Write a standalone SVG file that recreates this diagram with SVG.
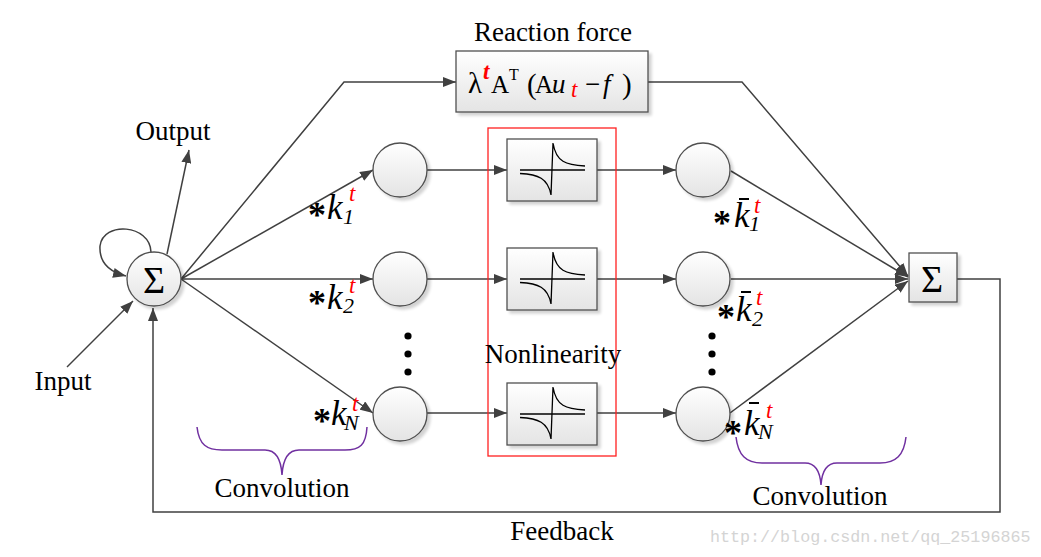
<svg xmlns="http://www.w3.org/2000/svg" width="1041" height="557" viewBox="0 0 1041 557">
<style>
.t{font-family:"Liberation Serif","Times New Roman",serif;font-size:27px;fill:#000}
.m{font-family:"Liberation Serif","Times New Roman",serif;fill:#000}
.it{font-style:italic}
.red{fill:#ff0000;font-style:italic;font-size:23px}
.ast{font-weight:bold;font-size:36px;font-style:normal}
.kk{font-style:italic;font-size:35px}
.sub{font-style:italic;font-size:22px}
.lab{font-family:"Liberation Serif","Times New Roman",serif;fill:#000}
.ln{stroke:#404040;stroke-width:1.5;fill:none}
.node{fill:url(#g);stroke:#505050;stroke-width:1.3}
.brace{fill:none;stroke:#7030a0;stroke-width:1.5}
.dot{fill:#000}
</style>
<defs>
<linearGradient id="g" x1="0" y1="0" x2="0" y2="1">
<stop offset="0" stop-color="#ffffff"/>
<stop offset="1" stop-color="#e4e4e4"/>
</linearGradient>
<filter id="sh" x="-20%" y="-20%" width="150%" height="150%">
<feGaussianBlur in="SourceAlpha" stdDeviation="1.5"/>
<feOffset dx="3" dy="3" result="b"/>
<feComponentTransfer><feFuncA type="linear" slope="0.18"/></feComponentTransfer>
<feMerge><feMergeNode/><feMergeNode in="SourceGraphic"/></feMerge>
</filter>
<marker id="ar" markerUnits="userSpaceOnUse" markerWidth="14" markerHeight="10" refX="13" refY="5" orient="auto">
<path d="M0,0 L13,5 L0,10 z" fill="#404040"/>
</marker>
<g id="nl">
<line x1="-32" y1="0" x2="33" y2="0" stroke="#000" stroke-width="1.3"/>
<path d="M-32,3.5 C-14,4.5 -4,8 -1,25 L1,-27 C4,-8 14,-5 33,-4" fill="none" stroke="#000" stroke-width="1.3"/>
</g>
</defs>
<rect width="1041" height="557" fill="#fff"/>

<g id="connectors">
<path class="ln" d="M151,252 C150,224 103,221 100,246 C99,263 110,272 126,276" marker-end="url(#ar)"/>
<line class="ln" x1="167" y1="254" x2="189" y2="150" marker-end="url(#ar)"/>
<line class="ln" x1="67" y1="367" x2="133" y2="301" marker-end="url(#ar)"/>
<polyline class="ln" points="181,279 344,82 456,82" marker-end="url(#ar)"/>
<line class="ln" x1="181" y1="279" x2="373" y2="170" marker-end="url(#ar)"/>
<line class="ln" x1="181" y1="279" x2="373" y2="279" marker-end="url(#ar)"/>
<line class="ln" x1="181" y1="279" x2="373" y2="413" marker-end="url(#ar)"/>
<line class="ln" x1="427" y1="170" x2="507" y2="170" marker-end="url(#ar)"/>
<line class="ln" x1="427" y1="279" x2="507" y2="279" marker-end="url(#ar)"/>
<line class="ln" x1="427" y1="413" x2="507" y2="413" marker-end="url(#ar)"/>
<line class="ln" x1="597" y1="170" x2="676" y2="170" marker-end="url(#ar)"/>
<line class="ln" x1="597" y1="279" x2="676" y2="279" marker-end="url(#ar)"/>
<line class="ln" x1="597" y1="413" x2="676" y2="413" marker-end="url(#ar)"/>
<polyline class="ln" points="648,82 742,82 908,276" marker-end="url(#ar)"/>
<line class="ln" x1="731" y1="171" x2="908" y2="277" marker-end="url(#ar)"/>
<line class="ln" x1="731" y1="279" x2="908" y2="279" marker-end="url(#ar)"/>
<line class="ln" x1="730" y1="413" x2="908" y2="281" marker-end="url(#ar)"/>
<polyline class="ln" points="957,279 1000,279 1000,512 153,512 153,308" marker-end="url(#ar)"/>
</g>

<rect id="nonlinearity-frame" x="488" y="128" width="128" height="328" fill="none" stroke="#ff2020" stroke-width="1.3"/>

<g id="sum-left">
<circle class="node" cx="154" cy="279" r="27" filter="url(#sh)"/>
<text class="m" x="154" y="293" font-size="38" text-anchor="middle">Σ</text>
</g>

<g id="reaction">
<rect class="node" x="456" y="51" width="192" height="61" filter="url(#sh)"/>
<text class="m" font-size="27"><tspan x="468" y="93" font-size="29">λ</tspan><tspan class="red" x="483" y="79" font-size="25" font-weight="bold">t</tspan><tspan x="491" y="93" font-size="25">A</tspan><tspan x="509" y="80" font-size="16">T</tspan><tspan x="527" y="94" font-size="29">(</tspan><tspan x="535" y="93" font-size="25">A</tspan><tspan class="it" x="552" y="93">u</tspan><tspan class="red" x="571" y="97" font-size="25">t</tspan><tspan x="585" y="93">−</tspan><tspan class="it" x="603" y="93">f</tspan><tspan x="622" y="94" font-size="29">)</tspan></text>
</g>

<g id="c1"><circle class="node" cx="400" cy="170" r="27" filter="url(#sh)"/></g>
<g id="c2"><circle class="node" cx="400" cy="279" r="27" filter="url(#sh)"/></g>
<g id="cN"><circle class="node" cx="400" cy="414" r="27" filter="url(#sh)"/></g>

<g id="nl1"><rect class="node" x="507" y="139" width="90" height="62" filter="url(#sh)"/><use href="#nl" x="552" y="170"/></g>
<g id="nl2"><rect class="node" x="507" y="248" width="90" height="62" filter="url(#sh)"/><use href="#nl" x="552" y="279"/></g>
<g id="nlN"><rect class="node" x="507" y="383" width="90" height="62" filter="url(#sh)"/><use href="#nl" x="552" y="414"/></g>

<g id="d1"><circle class="node" cx="703" cy="170" r="27" filter="url(#sh)"/></g>
<g id="d2"><circle class="node" cx="703" cy="279" r="27" filter="url(#sh)"/></g>
<g id="dN"><circle class="node" cx="703" cy="414" r="27" filter="url(#sh)"/></g>

<g id="sum-right">
<rect class="node" x="909" y="253" width="48" height="49" filter="url(#sh)"/>
<text class="m" x="932" y="292" font-size="38" text-anchor="middle">Σ</text>
</g>

<g id="dots">
<circle class="dot" cx="408" cy="336" r="3.6"/>
<circle class="dot" cx="408" cy="354" r="3.6"/>
<circle class="dot" cx="408" cy="372" r="3.6"/>
<circle class="dot" cx="712" cy="336" r="3.6"/>
<circle class="dot" cx="712" cy="354" r="3.6"/>
<circle class="dot" cx="712" cy="372" r="3.6"/>
</g>

<g id="labels">
<text class="t" x="553" y="41" text-anchor="middle">Reaction force</text>
<text class="t" x="173" y="140" text-anchor="middle">Output</text>
<text class="t" x="63" y="390" text-anchor="middle">Input</text>
<text class="t" x="553" y="363" text-anchor="middle">Nonlinearity</text>
<text class="t" x="282" y="497" text-anchor="middle">Convolution</text>
<text class="t" x="820" y="505" text-anchor="middle">Convolution</text>
<text class="t" x="562" y="540" text-anchor="middle">Feedback</text>

<text class="lab"><tspan class="ast" x="308" y="227">*</tspan><tspan class="kk" x="327" y="219">k</tspan><tspan class="sub" x="343" y="224">1</tspan><tspan class="red" x="349" y="201">t</tspan></text>
<text class="lab"><tspan class="ast" x="308" y="315">*</tspan><tspan class="kk" x="327" y="309">k</tspan><tspan class="sub" x="343" y="313">2</tspan><tspan class="red" x="349" y="293">t</tspan></text>
<text class="lab"><tspan class="ast" x="313" y="433">*</tspan><tspan class="kk" x="331" y="425">k</tspan><tspan class="sub" x="344" y="430">N</tspan><tspan class="red" x="352" y="411">t</tspan></text>

<line x1="739" y1="199" x2="749" y2="199" stroke="#000" stroke-width="2"/>
<text class="lab"><tspan class="ast" x="713" y="235">*</tspan><tspan class="kk" x="734" y="227">k</tspan><tspan class="sub" x="749" y="231">1</tspan><tspan class="red" x="754" y="213">t</tspan></text>
<line x1="741" y1="292" x2="751" y2="292" stroke="#000" stroke-width="2"/>
<text class="lab"><tspan class="ast" x="717" y="329">*</tspan><tspan class="kk" x="736" y="321">k</tspan><tspan class="sub" x="752" y="326">2</tspan><tspan class="red" x="756" y="305">t</tspan></text>
<line x1="749" y1="403" x2="759" y2="403" stroke="#000" stroke-width="2"/>
<text class="lab"><tspan class="ast" x="724" y="445">*</tspan><tspan class="kk" x="744" y="435">k</tspan><tspan class="sub" x="758" y="439">N</tspan><tspan class="red" x="766" y="418">t</tspan></text>
</g>

<g id="braces">
<path class="brace" d="M197,427 C199,445 207,450 222,450 L265,450 C275,450 281,458 282,475 C283,458 289,450 299,450 L345,450 C360,450 366,445 367,427"/>
<path class="brace" d="M736,437 C738,455 746,463 762,463 L805,463 C815,463 820,470 821,485 C822,470 827,463 837,463 L880,463 C896,463 904,455 906,437"/>
</g>

<text x="710" y="542" font-family="Liberation Mono,monospace" font-size="16.7" fill="#d4d4d4">http://blog.csdn.net/qq_25196865</text>
</svg>
